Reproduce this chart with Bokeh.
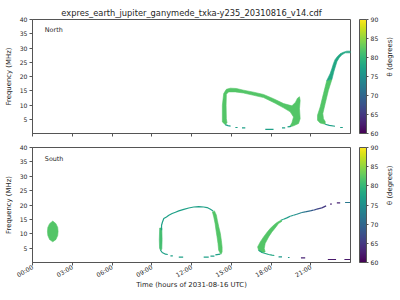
import math
from bokeh.plotting import figure
from bokeh.models import (Range1d, FixedTicker, ColorBar, LinearColorMapper, Label,
                          ColumnDataSource, LinearAxis)
from bokeh.layouts import column
from bokeh.palettes import Viridis256
from bokeh.embed import file_html
from bokeh.resources import INLINE
from bokeh.transform import linear_cmap

TITLE = "expres_earth_jupiter_ganymede_txka-y235_20310816_v14.cdf"
TIME_LABEL = "Time (hours of 2031-08-16 UTC)"
FREQ_LABEL = "Frequency (MHz)"
THETA_LABEL = "\u03b8 (degrees)"
hour_ticks = [0, 3, 6, 9, 12, 15, 18, 21]
hour_labels = ["00:00", "03:00", "06:00", "09:00", "12:00", "15:00", "18:00", "21:00"]
freq_ticks = [5, 10, 15, 20, 25, 30, 35, 40]
theta_ticks = [60, 65, 70, 75, 80, 85, 90]
THETA_MIN, THETA_MAX = 60, 90

# ---------------- North: emission regions (time h, frequency MHz, theta deg)
n_loop1_t = [14.33, 14.33, 14.43, 14.63, 14.93, 15.38, 15.93, 16.69, 17.44, 18.19, 18.95, 19.58,
             19.85, 20.0, 20.15, 20.2, 20.15, 20.2, 20.08, 19.7, 19.4, 19.58, 19.7, 19.45, 18.95,
             18.32, 17.44, 16.69, 15.93, 15.3, 14.8, 14.63, 14.61, 14.63, 14.68, 14.55]
n_loop1_f = [4.06, 9.9, 14.0, 15.5, 15.9, 15.8, 15.2, 14.5, 13.7, 12.2, 10.5, 9.7,
             11.0, 12.4, 12.9, 11.6, 8.7, 5.2, 3.5, 2.7, 2.3, 3.8, 5.8, 7.6, 9.0,
             10.6, 12.6, 13.4, 14.2, 14.6, 14.6, 13.8, 9.9, 5.2, 3.8, 3.1]
n_loop1_theta = 82

n_loop2_low_t = [22.21, 21.96, 21.71, 21.51, 21.51, 21.7, 22.09, 22.09, 21.96, 21.91, 22.09, 22.33, 22.6]
n_loop2_low_f = [18.6, 14.0, 9.3, 6.4, 4.65, 3.7, 3.25, 4.2, 5.2, 7.0, 10.5, 15.1, 19.0]
n_loop2_low_theta = 82

n_loop2_up_t = [22.21, 22.46, 22.59, 22.71, 22.83, 23.01, 23.22, 23.46, 23.72, 24.0,
                24.0, 23.6, 23.35, 23.15, 22.98, 22.88, 22.75, 22.6]
n_loop2_up_f = [18.6, 21.0, 22.7, 24.5, 25.9, 27.0, 28.0, 28.5, 28.9, 28.9,
                28.3, 28.3, 27.6, 26.6, 25.3, 23.8, 21.8, 19.0]
n_loop2_up_theta = 78

# thin traces (time, freq) with theta
n_tail1_t = [14.55, 14.75, 14.95]; n_tail1_f = [3.1, 2.75, 2.6]
n_tail2_t = [15.31, 15.48];        n_tail2_f = [2.1, 2.1]
n_tail3_t = [15.81, 16.06];        n_tail3_f = [1.95, 1.95]
n_tail4_t = [17.57, 18.19];        n_tail4_f = [1.45, 1.45]
n_tail5_t = [18.83, 19.07];        n_tail5_f = [1.95, 2.0]
n_tail6_t = [19.25, 19.5];         n_tail6_f = [2.3, 2.5]
n_tail7_t = [22.09, 22.4, 22.83];  n_tail7_f = [3.25, 2.85, 2.55]
n_tail8_t = [23.22, 23.42];        n_tail8_f = [2.1, 2.1]
n_tail_theta = [77, 77, 77, 77, 77, 77, 77, 77]

# ---------------- South
s_blob_t = [1.53, 1.77, 1.9, 1.93, 1.9, 1.77, 1.53, 1.29, 1.16, 1.13, 1.16, 1.29]
s_blob_f = [14.4, 13.5, 12.2, 10.8, 9.4, 8.0, 7.2, 8.0, 9.4, 10.8, 12.2, 13.5]
s_blob_theta = 82

s_leftleg_t = [9.6, 9.57, 9.59, 9.66, 9.76, 9.78, 9.76]
s_leftleg_f = [12.0, 8.0, 5.0, 4.2, 4.6, 8.0, 12.0]
s_leftleg_theta = 81

s_rightleg_t = [13.73, 13.88, 13.95, 14.06, 14.18, 14.25, 14.31, 14.31, 14.23,
                14.18, 14.05, 14.0, 13.93, 13.85, 13.78, 13.68, 13.58]
s_rightleg_f = [17.95, 16.45, 14.71, 12.38, 10.06, 7.75, 5.43, 3.69, 2.89,
                3.13, 4.28, 6.6, 8.9, 11.23, 13.56, 15.86, 17.6]
s_rightleg_theta = 82

s_wedge_t = [17.06, 16.99, 17.19, 17.44, 17.69, 17.94, 18.19, 18.45, 18.75, 18.83,
             18.57, 18.32, 18.07, 17.82, 17.69, 17.56, 17.49, 17.56, 17.32]
s_wedge_f = [4.28, 5.43, 7.17, 8.9, 10.43, 11.82, 12.97, 13.91, 14.71, 14.36,
             13.56, 12.03, 10.64, 8.9, 7.75, 6.61, 4.87, 3.69, 3.48]
s_wedge_theta = 82

s_arc1_t = [9.74, 9.74, 9.81, 9.91, 10.11, 10.29, 10.54, 10.79, 11.04, 11.42, 11.79,
            12.17, 12.55, 12.92, 13.18, 13.43, 13.63]
s_arc1_f = [11.2, 12.97, 14.1, 15.3, 15.86, 16.45, 17.04, 17.5, 17.95, 18.5, 18.96,
            19.3, 19.44, 19.3, 19.1, 18.5, 17.95]
s_arc1_theta = 77

s_arc2_t = [18.75, 18.95, 19.2, 19.45, 19.7, 19.95, 20.33, 20.58, 20.96, 21.2, 21.46, 21.84, 22.16]
s_arc2_f = [14.71, 15.06, 15.51, 16.1, 16.45, 16.8, 17.39, 17.6, 17.95, 18.19, 18.54, 18.99, 19.69]
s_arc2_theta = [78, 77, 76, 76, 75, 74, 72, 71, 69, 67, 66, 65, 64]

s_tail_t = [[9.66, 9.79, 10.04, 10.21], [10.41, 10.59], [11.04, 11.37], [12.92, 13.3],
            [13.43, 13.73], [13.8, 14.18], [17.06, 17.32, 17.57, 17.82, 18.07, 18.25],
            [18.57, 18.83], [19.28, 19.4], [20.26, 20.58], [22.29, 22.91], [23.54, 23.97],
            [22.46, 22.6], [22.97, 23.22], [23.59, 23.97]]
s_tail_f = [[4.28, 3.48, 2.89, 2.78], [2.3, 2.3], [1.84, 1.84], [1.84, 1.84],
            [2.19, 2.19], [2.64, 2.9], [4.28, 3.48, 3.13, 2.78, 2.54, 2.43],
            [1.95, 1.95], [1.74, 1.74], [1.6, 1.6], [1.04, 1.04], [1.04, 1.04],
            [20.28, 20.35], [20.73, 20.73], [20.87, 20.87]]
s_tail_theta = [77, 77, 77, 77, 77, 77, 78, 76, 76, 63, 62, 62, 63, 63, 72]

FONT = "DejaVu Sans"
INK = "#262626"
SPINE = "#555555"


def cmap():
    return linear_cmap("theta", Viridis256, THETA_MIN, THETA_MAX)


def make_panel(height, top, bottom, show_xlabels):
    p = figure(width=400, height=height, output_backend="svg", toolbar_location=None,
               x_range=Range1d(0, 24), y_range=Range1d(0, 40),
               min_border_left=32, min_border_right=50, min_border_top=top,
               min_border_bottom=bottom)
    p.grid.visible = False
    p.outline_line_color = SPINE
    p.outline_line_width = 1
    for ax in (p.xaxis[0], p.yaxis[0]):
        ax.axis_line_color = SPINE
        ax.major_tick_line_color = SPINE
        ax.minor_tick_line_color = None
        ax.major_tick_in = 0
        ax.major_tick_out = 3
        ax.major_label_text_font = FONT
        ax.major_label_text_font_size = "6.1px"
        ax.major_label_text_color = INK
        ax.axis_label_text_font = FONT
        ax.axis_label_text_font_size = "6.9px"
        ax.axis_label_text_font_style = "normal"
        ax.axis_label_text_color = INK
    p.xaxis.ticker = FixedTicker(ticks=hour_ticks)
    p.yaxis.ticker = FixedTicker(ticks=freq_ticks)
    p.yaxis.axis_label = FREQ_LABEL
    p.yaxis.major_label_standoff = 2
    p.yaxis.axis_label_standoff = 4
    if show_xlabels:
        p.xaxis.major_label_overrides = {t: l for t, l in zip(hour_ticks, hour_labels)}
        p.xaxis.major_label_orientation = math.pi / 6
        p.xaxis.axis_label = TIME_LABEL
        p.xaxis.major_label_standoff = 1
        p.xaxis.axis_label_standoff = -3
    else:
        p.xaxis.major_label_overrides = {t: "" for t in hour_ticks}
        p.xaxis.major_label_standoff = 0

    mapper = LinearColorMapper(palette=Viridis256, low=THETA_MIN, high=THETA_MAX)
    # transparent, label-free bar that only opens the gap between frame and colour bar
    gap = ColorBar(color_mapper=mapper, ticker=FixedTicker(ticks=[]), width=9,
                   padding=0, margin=0, scale_alpha=0, bar_line_color=None,
                   border_line_color=None, background_fill_color=None,
                   major_tick_out=0, major_tick_in=0, label_standoff=0,
                   major_tick_line_color=None, minor_tick_line_color=None)
    p.add_layout(gap, "right")

    cb = ColorBar(color_mapper=mapper, ticker=FixedTicker(ticks=theta_ticks),
                  width=7, padding=0, margin=0,
                  major_tick_in=0, major_tick_out=2, major_tick_line_color=SPINE,
                  label_standoff=2, major_label_text_font=FONT,
                  major_label_text_font_size="6.1px", major_label_text_color=INK,
                  bar_line_color=SPINE, border_line_color=None,
                  background_fill_color=None)
    p.add_layout(cb, "right")

    theta_axis = LinearAxis(ticker=FixedTicker(ticks=[]), axis_line_color=None,
                            major_tick_line_color=None, minor_tick_line_color=None,
                            major_tick_in=0, major_tick_out=0, major_label_standoff=0,
                            axis_label=THETA_LABEL, axis_label_standoff=8,
                            axis_label_orientation=math.pi / 2,
                            axis_label_text_font=FONT, axis_label_text_font_size="6.9px",
                            axis_label_text_font_style="normal", axis_label_text_color=INK)
    p.add_layout(theta_axis, "right")
    return p


def draw(p, patches, lines):
    src = ColumnDataSource(dict(xs=[a for a, b, c in patches], ys=[b for a, b, c in patches],
                                theta=[c for a, b, c in patches]))
    p.patches("xs", "ys", source=src, fill_color=cmap(), line_color=cmap(), line_width=0.6)
    lsrc = ColumnDataSource(dict(xs=[a for a, b, c in lines], ys=[b for a, b, c in lines],
                                 theta=[c for a, b, c in lines]))
    p.multi_line("xs", "ys", source=lsrc, line_color=cmap(), line_width=1.2)


# ---- top panel
p1 = make_panel(140, 19, 7, False)
p1.title.text = TITLE
p1.title.align = "center"
p1.title.text_font = FONT
p1.title.text_font_size = "8.3px"
p1.title.text_font_style = "normal"
p1.title.text_color = INK
p1.title.standoff = 4

north_patches = [(n_loop1_t, n_loop1_f, n_loop1_theta),
                 (n_loop2_low_t, n_loop2_low_f, n_loop2_low_theta),
                 (n_loop2_up_t, n_loop2_up_f, n_loop2_up_theta)]
n_tails_t = [n_tail1_t, n_tail2_t, n_tail3_t, n_tail4_t, n_tail5_t, n_tail6_t, n_tail7_t, n_tail8_t]
n_tails_f = [n_tail1_f, n_tail2_f, n_tail3_f, n_tail4_f, n_tail5_f, n_tail6_f, n_tail7_f, n_tail8_f]
north_lines = list(zip(n_tails_t, n_tails_f, n_tail_theta))
draw(p1, north_patches, north_lines)
p1.add_layout(Label(x=0.93, y=36.3, text="North", text_font=FONT, text_font_size="6.4px",
                    text_color=INK, text_baseline="middle"))

# ---- bottom panel
p2 = make_panel(160, 7, 38, True)
south_patches = [(s_blob_t, s_blob_f, s_blob_theta),
                 (s_leftleg_t, s_leftleg_f, s_leftleg_theta),
                 (s_rightleg_t, s_rightleg_f, s_rightleg_theta),
                 (s_wedge_t, s_wedge_f, s_wedge_theta)]
south_lines = [(s_arc1_t, s_arc1_f, s_arc1_theta)]
for i in range(len(s_arc2_t) - 1):
    south_lines.append((s_arc2_t[i:i + 2], s_arc2_f[i:i + 2], s_arc2_theta[i]))
south_lines += list(zip(s_tail_t, s_tail_f, s_tail_theta))
draw(p2, south_patches, south_lines)
p2.add_layout(Label(x=0.93, y=36.1, text="South", text_font=FONT, text_font_size="6.4px",
                    text_color=INK, text_baseline="middle"))

layout = column(p1, p2, spacing=0)
open("out.html", "w").write(file_html(layout, INLINE))
